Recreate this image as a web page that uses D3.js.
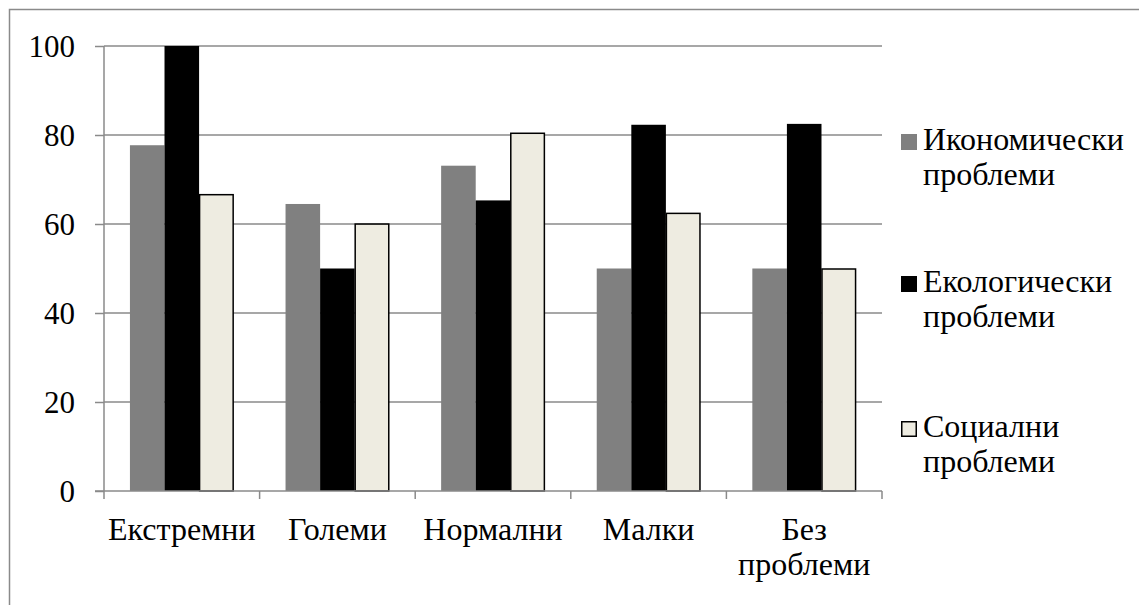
<!DOCTYPE html>
<html>
<head>
<meta charset="utf-8">
<script src="https://cdn.jsdelivr.net/npm/d3@7"></script>
</head>
<body style="margin:0">
<svg id="chart" width="1139" height="605"></svg>
<script>
const categories = [["Екстремни"], ["Големи"], ["Нормални"], ["Малки"], ["Без", "проблеми"]];
const seriesNames = [["Икономически", "проблеми"], ["Екологически", "проблеми"], ["Социални", "проблеми"]];
const economic = [77.7, 64.5, 73.1, 50, 50];
const ecological = [100, 50, 65.3, 82.3, 82.5];
const social = [66.7, 60.1, 80.5, 62.5, 50];
const yTicks = [0, 20, 40, 60, 80, 100];

const seriesAll = [economic, ecological, social];
const fills = ["#808080", "#000000", "#EEECE1"];
const strokes = ["none", "none", "#000000"];
const FS = 32, FSN = 31;

const svg = d3.select("#chart");
svg.style("font-family", '"Liberation Serif"');

function addText(sel, size) {
  return sel.append("text").attr("font-size", size).style("font-family", '"Liberation Serif"');
}

svg.append("rect").attr("width", 1139).attr("height", 605).attr("fill", "#fff");
svg.append("rect").attr("x", 9.5).attr("y", 9.5).attr("width", 1300).attr("height", 800)
  .attr("fill", "none").attr("stroke", "#8a8a8a").attr("stroke-width", 1.5);

const pLeft = 104, pRight = 882, pTop = 46, pBottom = 491;
const x = d3.scaleBand().domain(d3.range(categories.length)).range([pLeft, pRight]).padding(0);
const y = d3.scaleLinear().domain([0, 100]).range([pBottom, pTop]);
const bw = x.bandwidth() / 4.5;
const xs = d3.scaleBand().domain(d3.range(seriesAll.length)).range([0.75 * bw, 3.75 * bw]).padding(0);

// gridlines
svg.append("g").selectAll("line").data(yTicks.filter(d => d > 0)).join("line")
  .attr("x1", pLeft).attr("x2", pRight)
  .attr("y1", d => y(d)).attr("y2", d => y(d))
  .attr("stroke", "#8a8a8a").attr("stroke-width", 1.5);

// bars
seriesAll.forEach((vals, si) => {
  svg.append("g").selectAll("rect").data(vals).join("rect")
    .attr("x", (d, i) => x(i) + xs(si) + (si === 2 ? 0.5 : 0))
    .attr("y", d => y(d) + (si === 2 ? 0.5 : 0))
    .attr("width", xs.bandwidth() - (si === 2 ? 1 : 0))
    .attr("height", d => pBottom - y(d) - (si === 2 ? 0.5 : 0))
    .attr("fill", fills[si])
    .attr("stroke", strokes[si])
    .attr("stroke-width", 1.5);
});

// y axis (lines from d3 axis, labels as plain text)
const yAxis = d3.axisLeft(y).tickValues(yTicks).tickSize(9).tickFormat("");
const gy = svg.append("g").attr("transform", `translate(${pLeft},0)`).call(yAxis);
gy.attr("font-family", null).attr("font-size", null);
gy.select(".domain").attr("stroke", "#8a8a8a").attr("stroke-width", 1.5).attr("d", `M0,${pTop}V${pBottom}`);
gy.selectAll(".tick line").attr("stroke", "#8a8a8a").attr("stroke-width", 1.5);
gy.selectAll(".tick text").remove();
yTicks.forEach(v => {
  addText(svg, FSN).attr("x", 75).attr("y", y(v)).attr("dy", "0.34em")
    .attr("text-anchor", "end").text(String(v));
});

// x axis
const xAxis = d3.axisBottom(x).tickSize(0).tickFormat("");
const gx = svg.append("g").attr("transform", `translate(0,${pBottom})`).call(xAxis);
gx.attr("font-family", null).attr("font-size", null);
gx.select(".domain").attr("stroke", "#8a8a8a").attr("stroke-width", 1.5).attr("d", `M${pLeft - 9},0H${pRight}`);
gx.selectAll(".tick").remove();
const boundaries = d3.range(categories.length + 1).map(i => i < categories.length ? x(i) : x(i - 1) + x.bandwidth());
gx.selectAll("line.b").data(boundaries).join("line").attr("class", "b")
  .attr("x1", d => d).attr("x2", d => d).attr("y1", 0).attr("y2", 8)
  .attr("stroke", "#8a8a8a").attr("stroke-width", 1.5);

// category labels
categories.forEach((lines, i) => {
  lines.forEach((ln, j) => {
    addText(svg, FS).attr("text-anchor", "middle")
      .attr("x", x(i) + x.bandwidth() / 2).attr("y", 540 + j * 35).text(ln);
  });
});

// legend
const legY = [150, 292, 437];
seriesNames.forEach((lines, si) => {
  svg.append("rect").attr("x", si === 2 ? 901.75 : 901).attr("y", legY[si] - 16 + (si === 2 ? 0.75 : 0))
    .attr("width", si === 2 ? 14.5 : 16).attr("height", si === 2 ? 14.5 : 16)
    .attr("fill", fills[si]).attr("stroke", strokes[si]).attr("stroke-width", 1.5);
  lines.forEach((ln, j) => {
    addText(svg, FS).attr("x", 923).attr("y", legY[si] + j * 35).text(ln);
  });
});
</script>
</body>
</html>
